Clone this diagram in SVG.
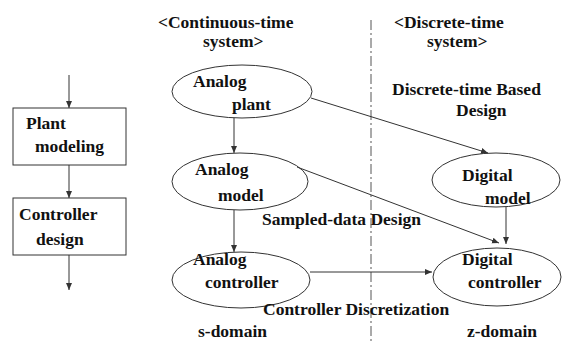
<svg xmlns="http://www.w3.org/2000/svg" width="563" height="343" viewBox="0 0 563 343">
<style>
text{font-family:"Liberation Serif","Times New Roman",serif;font-weight:bold;font-size:17.5px;fill:#111}
.s{fill:none;stroke:#333;stroke-width:1}
.c{fill:none;stroke:#333;stroke-width:1}
</style>
<defs>
<marker id="a" markerWidth="8" markerHeight="8" refX="7" refY="4" orient="auto" markerUnits="userSpaceOnUse">
<path d="M0,1 L7,4 L0,7 Z" fill="#333"/>
</marker>
</defs>
<rect width="563" height="343" fill="#fff"/>
<line x1="371" y1="20" x2="371" y2="343" stroke="#555" stroke-width="1" stroke-dasharray="10,3,2,3"/>
<g id="plant-modeling"><rect class="s" x="13" y="108" width="113" height="57"/><text x="26" y="129">Plant</text><text x="35" y="152">modeling</text></g>
<g id="controller-design"><rect class="s" x="13" y="198" width="113" height="57"/><text x="19" y="220">Controller</text><text x="36" y="245">design</text></g>
<g id="analog-plant"><ellipse class="s" cx="242" cy="91.5" rx="70" ry="26.5"/><text x="193" y="87">Analog</text><text x="232" y="110">plant</text></g>
<g id="analog-model"><ellipse class="s" cx="240" cy="181.5" rx="68" ry="28.5"/><text x="195" y="175">Analog</text><text x="218" y="201">model</text></g>
<g id="analog-controller"><ellipse class="s" cx="241" cy="280" rx="69" ry="28"/><text x="193" y="265">Analog</text><text x="205" y="288">controller</text></g>
<g id="digital-model"><ellipse class="s" cx="496" cy="180" rx="64" ry="27"/><text x="462" y="181">Digital</text><text x="485" y="204">model</text></g>
<g id="digital-controller"><ellipse class="s" cx="497" cy="277" rx="64" ry="29"/><text x="462" y="265">Digital</text><text x="468" y="288">controller</text></g>
<g id="labels">
<text x="158" y="28">&lt;Continuous-time</text>
<text x="203" y="47">system&gt;</text>
<text x="394" y="28">&lt;Discrete-time</text>
<text x="427" y="47">system&gt;</text>
<text x="392" y="95">Discrete-time Based</text>
<text x="456" y="116">Design</text>
<text x="262" y="225">Sampled-data Design</text>
<text x="263" y="315">Controller Discretization</text>
<text x="198" y="337">s-domain</text>
<text x="467" y="337">z-domain</text>
</g>
<g id="connectors">
<line class="c" x1="69" y1="75" x2="69" y2="108" marker-end="url(#a)"/>
<line class="c" x1="69" y1="165" x2="69" y2="198" marker-end="url(#a)"/>
<line class="c" x1="69" y1="255" x2="69" y2="290" marker-end="url(#a)"/>
<line class="c" x1="234" y1="118" x2="234" y2="153" marker-end="url(#a)"/>
<line class="c" x1="234" y1="210" x2="234" y2="252" marker-end="url(#a)"/>
<line class="c" x1="311" y1="98" x2="488" y2="153" marker-end="url(#a)"/>
<line class="c" x1="297" y1="167" x2="499" y2="243" marker-end="url(#a)"/>
<line class="c" x1="506" y1="207" x2="506" y2="244" marker-end="url(#a)"/>
<line class="c" x1="310" y1="272" x2="432" y2="272" marker-end="url(#a)"/>
</g>
</svg>
